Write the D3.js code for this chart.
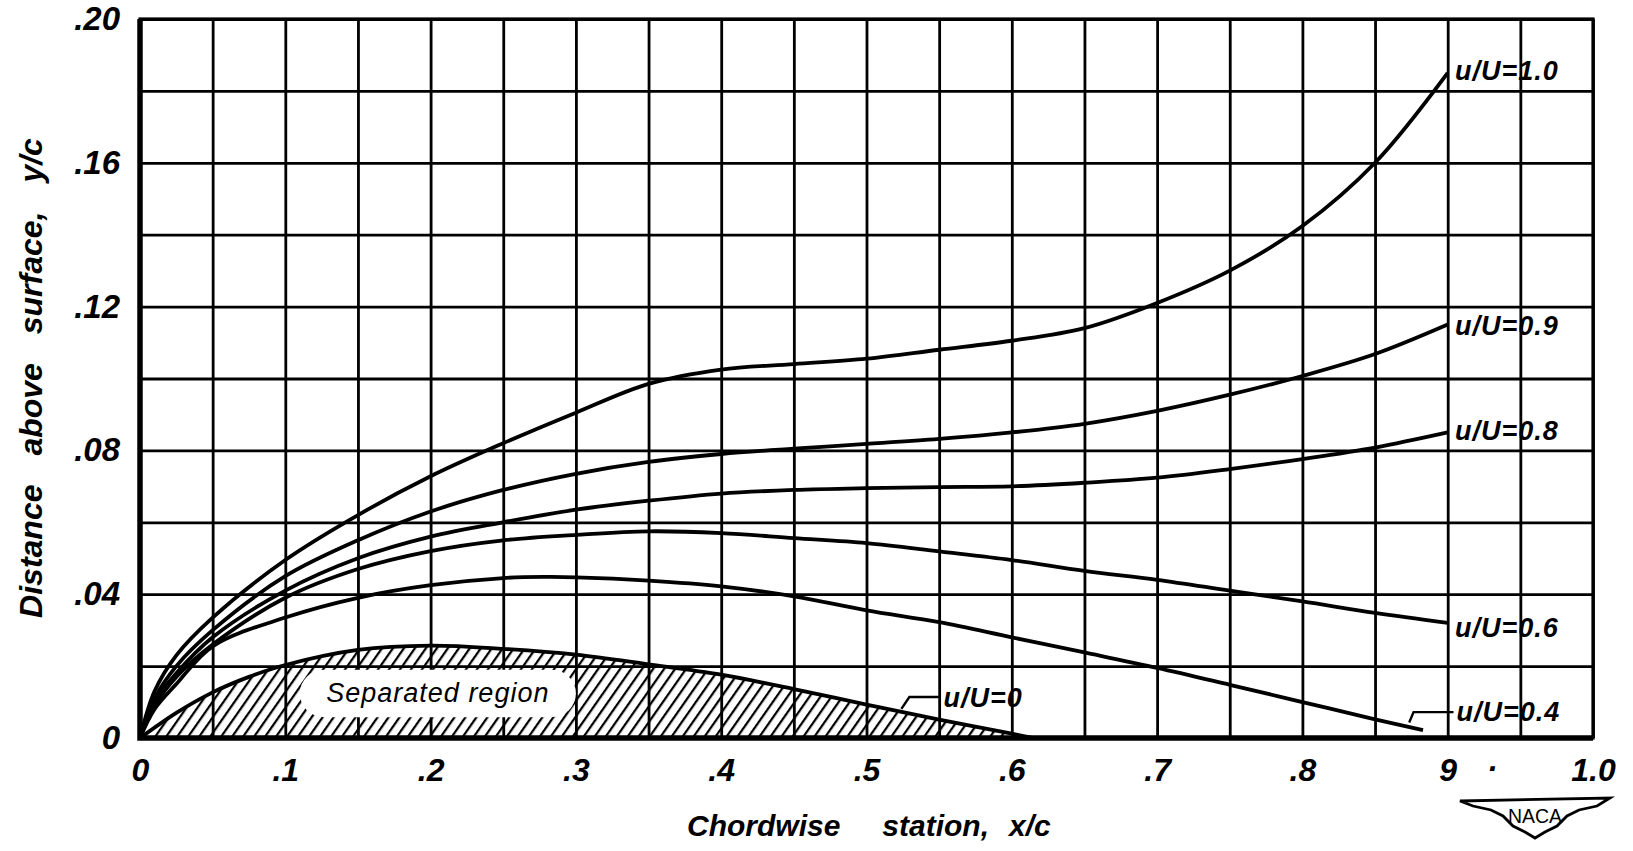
<!DOCTYPE html>
<html>
<head>
<meta charset="utf-8">
<script src="https://cdn.jsdelivr.net/npm/d3@7"></script>
<style>
  body { margin: 0; background: #fff; }
  svg { display: block; }
  text { font-family: "Liberation Sans", Arial, sans-serif; font-style: italic; font-weight: bold; fill: #000; }
</style>
</head>
<body>
<svg id="chart" width="1633" height="851"></svg>
<script>
// chordwise stations x/c
const xs = [0, 0.01, 0.025, 0.05, 0.1, 0.15, 0.2, 0.25, 0.3, 0.35, 0.4, 0.45, 0.5, 0.55, 0.6, 0.65, 0.7, 0.75, 0.8, 0.85, 0.9];

// y/c for each velocity ratio
const u10 = [0, 0.013, 0.023, 0.0335, 0.0495, 0.062, 0.0728, 0.082, 0.0905, 0.0985, 0.1025, 0.104, 0.1055, 0.108, 0.1105, 0.114, 0.121, 0.130, 0.1424, 0.160, 0.185];
const u09 = [0, 0.011, 0.020, 0.030, 0.045, 0.055, 0.063, 0.069, 0.0735, 0.0768, 0.079, 0.0805, 0.0818, 0.0832, 0.085, 0.0874, 0.091, 0.0955, 0.1007, 0.1068, 0.115];
const u08 = [0, 0.010, 0.018, 0.028, 0.041, 0.050, 0.056, 0.060, 0.0635, 0.066, 0.068, 0.069, 0.0695, 0.0698, 0.070, 0.071, 0.0724, 0.0748, 0.0776, 0.0808, 0.085];
const u06 = [0, 0.009, 0.017, 0.026, 0.039, 0.047, 0.052, 0.055, 0.0565, 0.0575, 0.057, 0.0556, 0.0542, 0.0519, 0.0495, 0.0465, 0.044, 0.041, 0.038, 0.0348, 0.032];

// u/U = 0.4 ends before x/c = 0.9
const xs04 = [0, 0.01, 0.025, 0.05, 0.1, 0.15, 0.2, 0.25, 0.28, 0.3, 0.35, 0.4, 0.45, 0.5, 0.55, 0.6, 0.65, 0.7, 0.75, 0.8, 0.85, 0.883];
const u04 = [0, 0.008, 0.015, 0.0255, 0.0335, 0.039, 0.0425, 0.0445, 0.0448, 0.0447, 0.0438, 0.0422, 0.0394, 0.0355, 0.0322, 0.028, 0.0238, 0.0195, 0.0148, 0.010, 0.0052, 0.0022];

// u/U = 0, edge of the separated region
const xs00 = [0, 0.025, 0.05, 0.075, 0.1, 0.15, 0.2, 0.25, 0.3, 0.35, 0.4, 0.45, 0.5, 0.55, 0.6, 0.615];
const u00 = [0, 0.007, 0.0127, 0.017, 0.0203, 0.0245, 0.0257, 0.0248, 0.0232, 0.0205, 0.0176, 0.0136, 0.0093, 0.0051, 0.0012, 0];

const xTickVals = [0, 0.1, 0.2, 0.3, 0.4, 0.5, 0.6, 0.7, 0.8, 0.9, 1.0];
const xTickText = ["0", ".1", ".2", ".3", ".4", ".5", ".6", ".7", ".8", "9", "1.0"];
const yTickVals = [0, 0.04, 0.08, 0.12, 0.16, 0.20];
const yTickText = ["0", ".04", ".08", ".12", ".16", ".20"];

const curveLabels = ["u/U=1.0", "u/U=0.9", "u/U=0.8", "u/U=0.6", "u/U=0.4", "u/U=0"];

const svg = d3.select("#chart");
const margin = { top: 19, right: 40, bottom: 113, left: 140 };
const width = 1633 - margin.left - margin.right,
      height = 851 - margin.top - margin.bottom;

const x = d3.scaleLinear().domain([0, 1]).range([0, width]);
const y = d3.scaleLinear().domain([0, 0.2]).range([height, 0]);

const g = svg.append("g").attr("transform", `translate(${margin.left},${margin.top})`);

// hatch pattern for the separated region
const defs = svg.append("defs");
const pat = defs.append("pattern")
    .attr("id", "hatch")
    .attr("patternUnits", "userSpaceOnUse")
    .attr("width", 9).attr("height", 10)
    .attr("patternTransform", "rotate(35)");
pat.append("line")
    .attr("x1", 1).attr("y1", 0).attr("x2", 1).attr("y2", 10)
    .attr("stroke", "#000").attr("stroke-width", 2.5);

// grid
g.append("g")
    .call(d3.axisBottom(x).tickValues(d3.range(0, 1.0001, 0.05)).tickSize(height).tickFormat(""))
    .call(s => s.select(".domain").remove())
    .call(s => s.selectAll("line").attr("stroke", "#000").attr("stroke-width", 2.8));
g.append("g")
    .call(d3.axisLeft(y).tickValues(d3.range(0, 0.2001, 0.02)).tickSize(-width).tickFormat(""))
    .call(s => s.select(".domain").remove())
    .call(s => s.selectAll("line").attr("stroke", "#000").attr("stroke-width", 2.8));

// frame: left and bottom drawn heavier
g.append("rect")
    .attr("width", width).attr("height", height)
    .attr("fill", "none").attr("stroke", "#000").attr("stroke-width", 3.2);
g.append("path")
    .attr("d", `M0,0V${height}H${width}`)
    .attr("fill", "none").attr("stroke", "#000").attr("stroke-width", 5.5);

// separated region
const smooth = d3.curveCatmullRom.alpha(0.5);
const sepPts = xs00.map((d, i) => [d, u00[i]]);
const area = d3.area()
    .x(d => x(d[0])).y0(y(0)).y1(d => y(d[1]))
    .curve(smooth);
g.append("path").datum(sepPts).attr("d", area).attr("fill", "url(#hatch)");

g.append("rect")
    .attr("x", x(0.11)).attr("y", y(0.019))
    .attr("width", x(0.3) - x(0.11)).attr("height", y(0.0058) - y(0.019))
    .attr("rx", 24).attr("fill", "#fff");
g.append("text")
    .attr("x", x(0.205)).attr("y", y(0.0125))
    .attr("text-anchor", "middle").attr("dominant-baseline", "central")
    .style("font-size", "27px").style("font-weight", "normal").style("letter-spacing", "1px")
    .text("Separated region");

// velocity contours
const line = d3.line().x(d => x(d[0])).y(d => y(d[1])).curve(smooth);
const series = [
    { xs: xs, ys: u10 },
    { xs: xs, ys: u09 },
    { xs: xs, ys: u08 },
    { xs: xs, ys: u06 },
    { xs: xs04, ys: u04 },
    { xs: xs00, ys: u00 }
];
g.selectAll("path.curve")
    .data(series)
    .enter().append("path")
    .attr("class", "curve")
    .attr("d", s => line(s.xs.map((d, i) => [d, s.ys[i]])))
    .attr("fill", "none").attr("stroke", "#000").attr("stroke-width", 3.8);

// curve labels
const labelPos = [[0.905, 0.1855], [0.905, 0.1145], [0.905, 0.0855], [0.905, 0.0305], [0.906, 0.0072], [0.553, 0.0112]];
g.selectAll("text.clabel")
    .data(curveLabels)
    .enter().append("text")
    .attr("class", "clabel")
    .attr("x", (d, i) => x(labelPos[i][0]))
    .attr("y", (d, i) => y(labelPos[i][1]))
    .attr("dominant-baseline", "central")
    .style("font-size", "27px").style("letter-spacing", "1px")
    .text(d => d);

// leaders for the two lowest labels
const leader = d3.line().x(d => x(d[0])).y(d => y(d[1]));
g.append("path")
    .attr("d", leader([[0.8735, 0.0043], [0.8765, 0.0072], [0.904, 0.0072]]))
    .attr("fill", "none").attr("stroke", "#000").attr("stroke-width", 2.4);
g.append("path")
    .attr("d", leader([[0.524, 0.0081], [0.5295, 0.0114], [0.551, 0.0114]]))
    .attr("fill", "none").attr("stroke", "#000").attr("stroke-width", 2.4);

// tick labels
g.append("g")
    .attr("transform", `translate(0,${height})`)
    .call(d3.axisBottom(x).tickValues(xTickVals).tickSize(0).tickPadding(20)
        .tickFormat((d, i) => xTickText[i]))
    .call(s => s.select(".domain").remove())
    .call(s => s.selectAll("text").style("font-size", "32px").style("font-family", null));
// stray dot printed beside the "9"
g.append("text")
    .attr("x", 1352).attr("y", height + 41)
    .attr("text-anchor", "middle")
    .style("font-size", "32px").text("·");

g.append("g")
    .call(d3.axisLeft(y).tickValues(yTickVals).tickSize(0).tickPadding(20)
        .tickFormat((d, i) => yTickText[i]))
    .call(s => s.select(".domain").remove())
    .call(s => s.selectAll("text").style("font-size", "33px").style("font-family", null));

// axis titles
const xt = svg.append("text")
    .attr("x", 687).attr("y", 836)
    .style("font-size", "30px");
xt.append("tspan").text("Chordwise");
xt.append("tspan").attr("dx", 42).text("station,");
xt.append("tspan").attr("dx", 20).text("x/c");

const yt = svg.append("text")
    .attr("transform", "translate(42,378) rotate(-90)")
    .attr("text-anchor", "middle")
    .style("font-size", "32px").style("word-spacing", "20px")
    .text("Distance above surface, y/c");

// NACA wing badge
const badge = svg.append("g").attr("transform", "translate(1535,815)");
badge.append("path")
    .attr("d", "M-75,-14 L75,-17 L62,-9 L44,-5 L32,1 L22,11 L10,17 L0,23 L-10,17 L-22,11 L-32,1 L-44,-5 L-62,-9 Z")
    .attr("fill", "#fff").attr("stroke", "#000").attr("stroke-width", 2.8);
badge.append("text")
    .attr("y", 8).attr("text-anchor", "middle")
    .attr("textLength", 54).attr("lengthAdjust", "spacingAndGlyphs")
    .style("font-size", "21px").style("font-style", "normal").style("font-weight", "normal")
    .text("NACA");
</script>
</body>
</html>
